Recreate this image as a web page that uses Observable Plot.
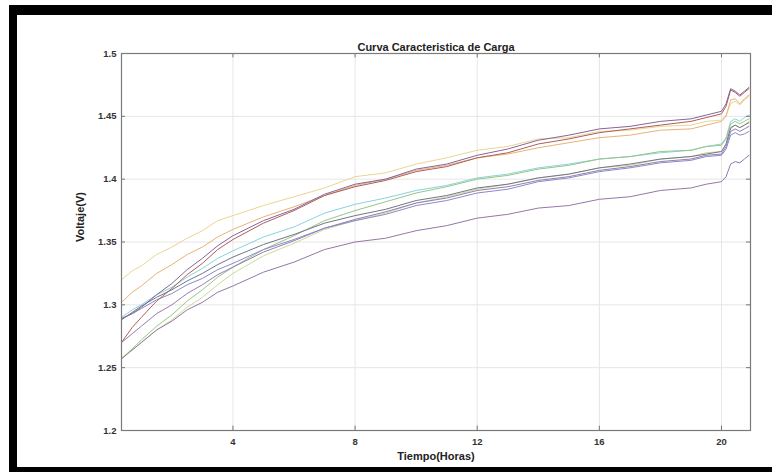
<!DOCTYPE html>
<html><head><meta charset="utf-8">
<script src="https://cdn.jsdelivr.net/npm/d3@7"></script>
<script src="https://cdn.jsdelivr.net/npm/@observablehq/plot@0.6"></script>
<style>
body{margin:0;background:#fff;width:772px;height:472px;overflow:hidden;position:relative;font-family:"Liberation Sans",Arial,sans-serif}
.band{position:absolute;background:#000}
#chart{position:absolute;left:0;top:0}
</style></head><body>
<div id="chart"></div>
<div class="band" style="left:9px;top:5px;width:763px;height:10px"></div>
<div class="band" style="left:9px;top:5px;width:8px;height:467px"></div>
<div class="band" style="left:9px;top:467px;width:763px;height:5px"></div>
<script>
const title = "Curva Caracteristica de Carga";
const xLabel = "Tiempo(Horas)";
const yLabel = "Voltaje(V)";
const xTicks = [4, 8, 12, 16, 20];
const yTicks = [1.2, 1.25, 1.3, 1.35, 1.4, 1.45, 1.5];
const yTickLabels = ["1.2", "1.25", "1.3", "1.35", "1.4", "1.45", "1.5"];

const hours = [0.35, 0.7, 1, 1.5, 2, 2.5, 3, 3.5, 4, 5, 6, 7, 8, 9, 10, 11, 12, 13, 14, 15, 16, 17, 18, 19, 19.5, 20, 20.15, 20.3, 20.45, 20.6, 20.75, 20.9];

const yellowTop = [1.320, 1.327, 1.331, 1.340, 1.346, 1.353, 1.359, 1.367, 1.371, 1.379, 1.386, 1.393, 1.402, 1.405, 1.412, 1.417, 1.423, 1.426, 1.432, 1.433, 1.438, 1.439, 1.442, 1.443, 1.446, 1.447, 1.451, 1.460, 1.462, 1.459, 1.463, 1.466];
const orange = [1.302, 1.310, 1.315, 1.325, 1.332, 1.340, 1.346, 1.354, 1.360, 1.370, 1.378, 1.387, 1.395, 1.400, 1.407, 1.411, 1.417, 1.420, 1.425, 1.429, 1.433, 1.435, 1.439, 1.440, 1.443, 1.446, 1.450, 1.463, 1.464, 1.460, 1.464, 1.467];
const redBrown = [1.270, 1.282, 1.290, 1.303, 1.313, 1.324, 1.333, 1.344, 1.352, 1.365, 1.375, 1.387, 1.394, 1.399, 1.406, 1.410, 1.417, 1.421, 1.428, 1.432, 1.437, 1.440, 1.443, 1.446, 1.449, 1.452, 1.458, 1.471, 1.469, 1.466, 1.469, 1.472];
const purpleDark = [1.289, 1.293, 1.298, 1.308, 1.317, 1.328, 1.337, 1.347, 1.355, 1.367, 1.376, 1.388, 1.396, 1.400, 1.408, 1.412, 1.419, 1.424, 1.431, 1.435, 1.440, 1.442, 1.446, 1.448, 1.451, 1.454, 1.460, 1.472, 1.470, 1.467, 1.470, 1.473];
const cyan = [1.290, 1.296, 1.300, 1.308, 1.314, 1.322, 1.329, 1.337, 1.343, 1.354, 1.362, 1.373, 1.380, 1.385, 1.391, 1.395, 1.401, 1.404, 1.409, 1.412, 1.416, 1.418, 1.421, 1.423, 1.426, 1.428, 1.433, 1.446, 1.448, 1.446, 1.449, 1.451];
const grayBlue = [1.288, 1.294, 1.299, 1.306, 1.312, 1.319, 1.325, 1.332, 1.338, 1.348, 1.356, 1.365, 1.371, 1.376, 1.383, 1.387, 1.393, 1.396, 1.401, 1.404, 1.409, 1.412, 1.416, 1.418, 1.420, 1.422, 1.428, 1.441, 1.443, 1.441, 1.443, 1.445];
const green = [1.257, 1.265, 1.272, 1.283, 1.292, 1.303, 1.312, 1.322, 1.330, 1.344, 1.355, 1.367, 1.375, 1.382, 1.389, 1.394, 1.400, 1.403, 1.408, 1.411, 1.416, 1.418, 1.422, 1.423, 1.426, 1.427, 1.432, 1.444, 1.446, 1.444, 1.446, 1.448];
const purple = [1.270, 1.277, 1.283, 1.293, 1.300, 1.309, 1.316, 1.324, 1.330, 1.342, 1.351, 1.361, 1.368, 1.374, 1.381, 1.385, 1.391, 1.394, 1.399, 1.402, 1.407, 1.410, 1.414, 1.416, 1.419, 1.420, 1.426, 1.438, 1.440, 1.438, 1.440, 1.442];
const lightGreen = [1.258, 1.264, 1.270, 1.280, 1.288, 1.298, 1.306, 1.316, 1.325, 1.339, 1.349, 1.360, 1.367, 1.373, 1.381, 1.386, 1.392, 1.396, 1.401, 1.404, 1.409, 1.411, 1.416, 1.418, 1.421, 1.422, 1.428, 1.440, 1.443, 1.441, 1.443, 1.446];
const bluePurple = [1.289, 1.293, 1.297, 1.304, 1.309, 1.316, 1.321, 1.328, 1.333, 1.344, 1.352, 1.361, 1.367, 1.372, 1.379, 1.383, 1.389, 1.392, 1.398, 1.401, 1.406, 1.409, 1.413, 1.415, 1.418, 1.419, 1.424, 1.435, 1.437, 1.435, 1.436, 1.438];
const purpleBottom = [1.257, 1.264, 1.270, 1.280, 1.287, 1.296, 1.302, 1.310, 1.315, 1.326, 1.334, 1.344, 1.350, 1.353, 1.359, 1.363, 1.369, 1.372, 1.377, 1.379, 1.384, 1.386, 1.391, 1.393, 1.396, 1.398, 1.402, 1.412, 1.414, 1.413, 1.416, 1.419];

const series = [
  {name: "s1", values: yellowTop, color: "#ebd594"},
  {name: "s2", values: orange, color: "#e8b278"},
  {name: "s5", values: cyan, color: "#88d3de"},
  {name: "s7", values: green, color: "#96c686"},
  {name: "s9", values: lightGreen, color: "#c9dc9a"},
  {name: "s6", values: grayBlue, color: "#6f7886"},
  {name: "s8", values: purple, color: "#9a7bae"},
  {name: "s10", values: bluePurple, color: "#8a8acc"},
  {name: "s11", values: purpleBottom, color: "#9478a8"},
  {name: "s3", values: redBrown, color: "#ad5e5a"},
  {name: "s4", values: purpleDark, color: "#84669a"}
];

const font = "'Liberation Sans', Arial, sans-serif";
const yTicksInner = yTicks.slice(1, -1);

const marks = [
  Plot.gridX(xTicks, {stroke: "#e6e6e6", strokeOpacity: 1}),
  Plot.gridY(yTicksInner, {stroke: "#e6e6e6", strokeOpacity: 1}),
  ...series.map(s => Plot.line(hours.map((h, i) => ({x: h, y: s.values[i]})), {x: "x", y: "y", stroke: s.color, strokeWidth: 1})),
  Plot.ruleX(xTicks, {y1: 1.2, y2: 1.2035, stroke: "#777"}),
  Plot.ruleX(xTicks, {y1: 1.5, y2: 1.4965, stroke: "#777"}),
  Plot.ruleY(yTicks, {x1: 0.35, x2: 0.48, stroke: "#777"}),
  Plot.ruleY(yTicks, {x1: 20.95, x2: 20.82, stroke: "#777"}),
  Plot.frame({stroke: "#7a7a7a", strokeWidth: 1.2}),
  Plot.axisX(xTicks, {tickSize: 0, tickPadding: 8, fontSize: 9.5, fontWeight: "bold", fill: "#333", label: null}),
  Plot.axisY(yTicks, {tickSize: 0, tickPadding: 5, fontSize: 9.5, fontWeight: "bold", fill: "#333", label: null, tickFormat: (d, i) => yTickLabels[i]}),
  Plot.text([title], {frameAnchor: "top", dy: -10, fontSize: 11, fontWeight: "bold", fill: "#222"}),
  Plot.text([xLabel], {frameAnchor: "bottom", dy: 29, fontSize: 11, fontWeight: "bold", fill: "#222"}),
  Plot.text([yLabel], {frameAnchor: "left", dx: -41, rotate: -90, fontSize: 11, fontWeight: "bold", fill: "#222"})
];

const chart = Plot.plot({
  width: 772,
  height: 472,
  marginLeft: 121,
  marginRight: 22,
  marginTop: 53,
  marginBottom: 42,
  style: {fontFamily: font, background: "transparent"},
  x: {domain: [0.35, 20.95], axis: null},
  y: {domain: [1.2, 1.5], axis: null},
  marks
});
document.getElementById("chart").appendChild(chart);
</script>
</body></html>
